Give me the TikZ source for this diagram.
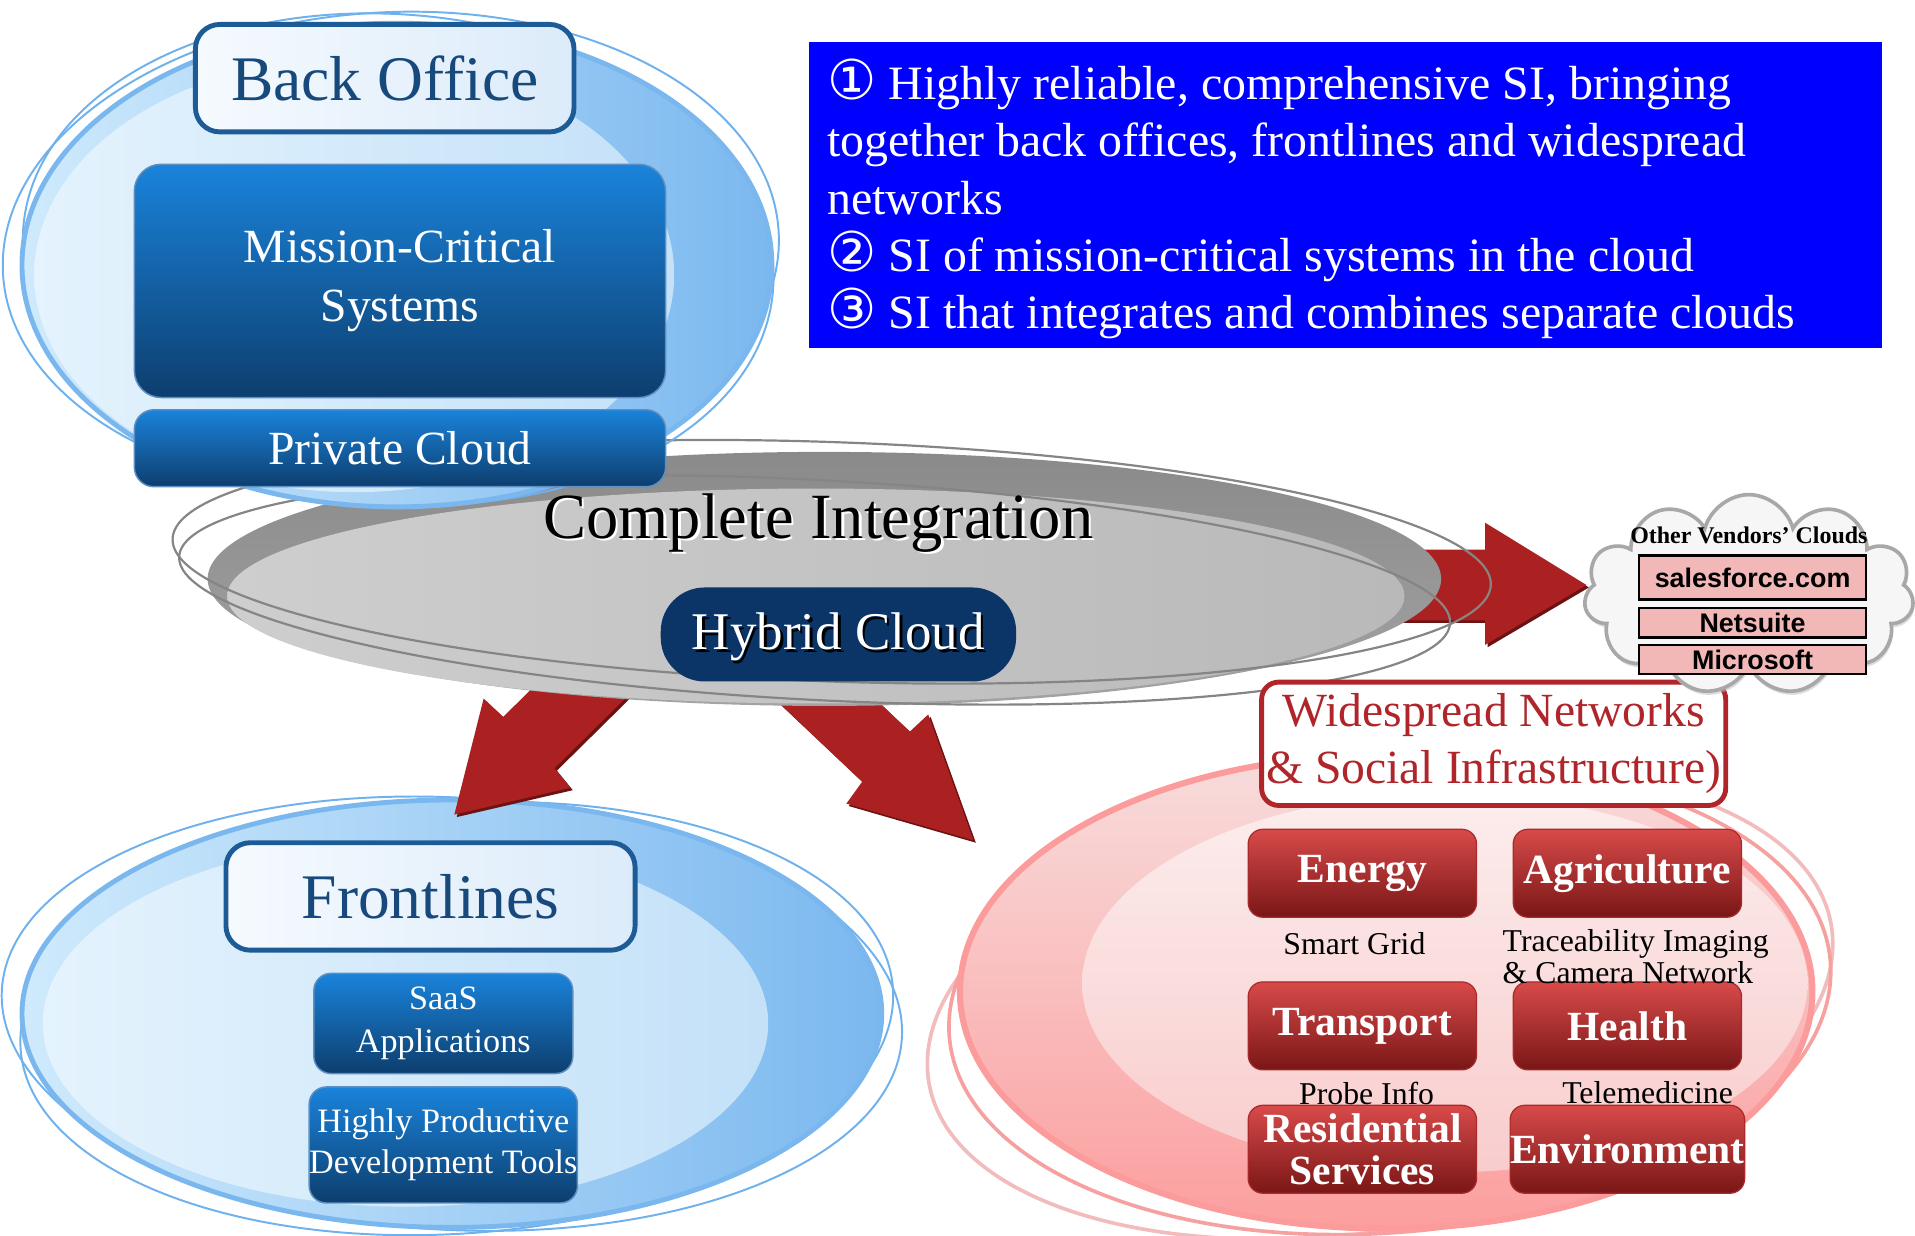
\documentclass[tikz,border=0pt]{standalone}
\usepackage{fontspec}
\setmainfont{Liberation Serif}
\newfontfamily\arialf{Liberation Sans}
\newfontfamily\symf{DejaVu Sans}
\usepackage{tikz}
\usetikzlibrary{shapes.symbols, shadows}

\definecolor{skyl}{HTML}{CFEAFC}
\definecolor{skyr}{HTML}{7BB8EF}
\definecolor{skyil}{HTML}{E4F3FD}
\definecolor{skyir}{HTML}{C4E1F8}
\definecolor{skyring}{HTML}{7AB7EE}
\definecolor{skyline}{HTML}{6FB1EC}
\definecolor{bluetop}{HTML}{1A83DB}
\definecolor{bluebot}{HTML}{0D3E6E}
\definecolor{blueedge}{HTML}{5D8FC0}
\definecolor{labl}{HTML}{F5FAFE}
\definecolor{labr}{HTML}{DCEBFA}
\definecolor{labedge}{HTML}{1D5B97}
\definecolor{labtext}{HTML}{17497C}
\definecolor{grayouttop}{HTML}{8A8A8A}
\definecolor{grayoutbot}{HTML}{A3A3A3}
\definecolor{grayinl}{HTML}{CECECE}
\definecolor{grayinr}{HTML}{B9B9B9}
\definecolor{grayline}{HTML}{858585}
\definecolor{navy}{HTML}{0B3467}
\definecolor{infoblue}{HTML}{0000FF}
\definecolor{arrowred}{HTML}{AB2121}
\definecolor{arrowdark}{HTML}{6D1212}
\definecolor{cloudfill}{HTML}{F6F6F6}
\definecolor{cloudedge}{HTML}{A8A8A8}
\definecolor{vendorpink}{HTML}{F2B8B8}
\definecolor{pinktop}{HTML}{F8DCDC}
\definecolor{pinkbot}{HTML}{FC9E9E}
\definecolor{pinkintop}{HTML}{FCEDED}
\definecolor{pinkinbot}{HTML}{F9CCCC}
\definecolor{pinkring}{HTML}{FC9B9B}
\definecolor{pinkline}{HTML}{F7A0A0}
\definecolor{pinkpale}{HTML}{F2BCBC}
\definecolor{netred}{HTML}{B0252A}
\definecolor{redtop}{HTML}{D84A4A}
\definecolor{redbot}{HTML}{7A1616}
\definecolor{rededge}{HTML}{A82A2A}

\begin{document}
\begin{tikzpicture}[x=0.5pt, y=-0.5pt,
  bluebox/.style={rounded corners=#1, top color=bluetop, bottom color=bluebot, draw=blueedge, line width=0.6pt, text=white, align=center, inner sep=0pt},
  labelbox/.style={rounded corners=10pt, left color=labl, right color=labr, draw=labedge, line width=2pt, text=labtext, font=\fontsize{26}{30}\selectfont, minimum width=#1, minimum height=44pt},
  redbox/.style={rounded corners=6pt, top color=redtop, bottom color=redbot, draw=rededge, line width=0.5pt, text=white, font=\bfseries\fontsize{17}{17.5}\selectfont, minimum width=93.5pt, minimum height=36pt, align=center, inner sep=0pt},
  vendorbox/.style={draw=black, line width=1pt, fill=vendorpink, minimum width=93pt, minimum height=#1, inner sep=0pt, font=\arialf\bfseries\fontsize{11}{13}\selectfont},
  small/.style={font=\fontsize{13}{13}\selectfont, align=left, inner sep=0pt}]
  \useasboundingbox (0,0) rectangle (1568,1012);

  \draw[skyline, line width=0.8pt, rotate around={-3:(370,830)}] (370,830) ellipse [x radius=369, y radius=177];
  \draw[skyline, line width=0.8pt, rotate around={4:(374,834)}] (374,834) ellipse [x radius=358, y radius=176];
  \shade[left color=skyl, right color=skyr] (370,830) ellipse [x radius=352, y radius=175];
  \shade[left color=skyil, right color=skyir] (332,838) ellipse [x radius=297, y radius=150];
  \draw[skyring, line width=2pt] (370,830) ellipse [x radius=352, y radius=175];

  \draw[pinkpale, line width=1.5pt, rotate around={10:(1130,822)}] (1130,822) ellipse [x radius=375, y radius=184];
  \draw[pinkline, line width=1.5pt, rotate around={5:(1138,818)}] (1138,818) ellipse [x radius=362, y radius=191];
  \shade[top color=pinktop, bottom color=pinkbot] (1135,812) ellipse [x radius=349, y radius=194];
  \shade[top color=pinkintop, bottom color=pinkinbot] (1183,805) ellipse [x radius=297, y radius=155];
  \draw[pinkring, line width=2.5pt] (1135,812) ellipse [x radius=349, y radius=194];

  \foreach \sh/\col in {2/arrowdark, 0/arrowred} {
    \fill[\col, shift={(\sh,\sh)}] (1100,450) -- (1216,450) -- (1216,428) -- (1299,479) -- (1216,528) -- (1216,508) -- (1100,508) -- cycle;
    \fill[\col, shift={(\sh,\sh)}] (534,550) -- (454,629) -- (467,645) -- (372,667) -- (396,572) -- (412,587) -- (492,508) -- cycle;
    \fill[\col, shift={(\sh,\sh)}] (655,514) -- (745,599) -- (760,585) -- (797,688) -- (693,658) -- (706,640) -- (616,555) -- cycle;
  }

  \shade[top color=grayouttop, bottom color=grayoutbot] (675,474) ellipse [x radius=505, y radius=104];
  \shade[left color=grayinl, right color=grayinr] (668,488) ellipse [x radius=482, y radius=88];
  \draw[grayline, line width=0.9pt, rotate around={-2:(681,460)}] (681,460) ellipse [x radius=540, y radius=98];
  \draw[grayline, line width=0.9pt, rotate around={-3:(667,483)}] (667,483) ellipse [x radius=521, y radius=90];

  \draw[skyline, line width=0.8pt, rotate around={3:(320,207)}] (320,207) ellipse [x radius=318, y radius=197];
  \draw[skyline, line width=0.8pt, rotate around={-5:(326,212)}] (326,212) ellipse [x radius=308, y radius=200];
  \shade[left color=skyl, right color=skyr] (325,217) ellipse [x radius=307, y radius=198];
  \shade[left color=skyil, right color=skyir] (290,225) ellipse [x radius=262, y radius=178];
  \draw[skyring, line width=2pt] (325,217) ellipse [x radius=307, y radius=198];

  \node[labelbox=155pt] (backoffice) at (315,64) {Back Office};
  \node[bluebox=11pt, minimum width=217.5pt, minimum height=95.5pt, font=\fontsize{19.5}{24}\selectfont] (mcs) at (327.5,230) {Mission-Critical\\Systems};
  \node[bluebox=8pt, minimum width=217.5pt, minimum height=31.5pt, font=\fontsize{19.5}{24}\selectfont] (private) at (327.5,367) {Private Cloud};

  \node[font=\fontsize{26.4}{30}\selectfont, text=white] (cishadow) at (672,430) {Complete Integration};
  \node[font=\fontsize{26.4}{30}\selectfont] (complete) at (670,428) {Complete Integration};
  \node[fill=navy, rounded corners=18pt, minimum width=145.5pt, minimum height=38.5pt] (hybrid) at (686.5,519.5) {};
  \node[font=\fontsize{21.7}{24}\selectfont] (hcshadow) at (688.5,523.5) {Hybrid Cloud};
  \node[font=\fontsize{21.7}{24}\selectfont, text=white] (hctext) at (686.5,521.5) {Hybrid Cloud};

  \node[fill=infoblue, minimum width=439.5pt, minimum height=125.5pt] (info) at (1101.5,159.5) {};
  \node[anchor=west, inner sep=0pt, align=left, text=white, font=\fontsize{19.6}{23.5}\selectfont] (infotext) at (677,163)
    {{\symf\fontsize{22.5}{22.5}\selectfont ①} Highly reliable, comprehensive SI, bringing\\together back offices, frontlines and widespread\\networks\\{\symf\fontsize{22.5}{22.5}\selectfont ②} SI of mission-critical systems in the cloud\\{\symf\fontsize{22.5}{22.5}\selectfont ③} SI that integrates and combines separate clouds};

  \node[labelbox=167.5pt] (frontlines) at (352.5,734) {Frontlines};
  \node[bluebox=7pt, minimum width=106pt, minimum height=41pt, font=\fontsize{14}{17.5}\selectfont] (saas) at (363,838) {SaaS\\Applications};
  \node[bluebox=7pt, minimum width=106pt, minimum height=47.5pt, font=\fontsize{14}{17}\selectfont] (tools) at (363,937.5) {Highly Productive\\Development Tools};

  \node[rounded corners=7pt, draw=netred, line width=2pt, fill=white, minimum width=190pt, minimum height=50.5pt, text=netred, align=center, inner sep=0pt, font=\fontsize{19.5}{23.5}\selectfont] (widespread) at (1223,609) {Widespread Networks\\\& Social Infrastructure)};

  \node[cloud, cloud puffs=11, aspect=1.6, minimum width=135pt, minimum height=82pt, fill=cloudfill, draw=cloudedge, line width=1.5pt, drop shadow={shadow xshift=0.5pt, shadow yshift=-1.5pt, fill=gray!55}] (vcloud) at (1432,487) {};
  \node[font=\bfseries\fontsize{9.8}{11}\selectfont] (vtitle) at (1432,438) {Other Vendors’ Clouds};
  \node[vendorbox=18pt] (salesforce) at (1435,473) {salesforce.com};
  \node[vendorbox=12pt] (netsuite) at (1435,510) {Netsuite};
  \node[vendorbox=12pt] (microsoft) at (1435,540) {Microsoft};

  \node[redbox] (energy) at (1115.5,715) {Energy};
  \node[redbox] (agri) at (1332.5,715) {Agriculture};
  \node[redbox] (transport) at (1115.5,840) {Transport};
  \node[redbox] (health) at (1332.5,840) {Health};
  \node[redbox] (resid) at (1115.5,941) {Residential\\Services};
  \node[redbox] (environ) at (1332.5,941) {Environment};

  \node[small] (smartgrid) at (1109,773) {Smart Grid};
  \node[small, anchor=west] (trace) at (1230,783) {Traceability Imaging\\\& Camera Network};
  \node[small] (probe) at (1119,895) {Probe Info};
  \node[small] (telemed) at (1349,895) {Telemedicine};
\end{tikzpicture}
\end{document}
